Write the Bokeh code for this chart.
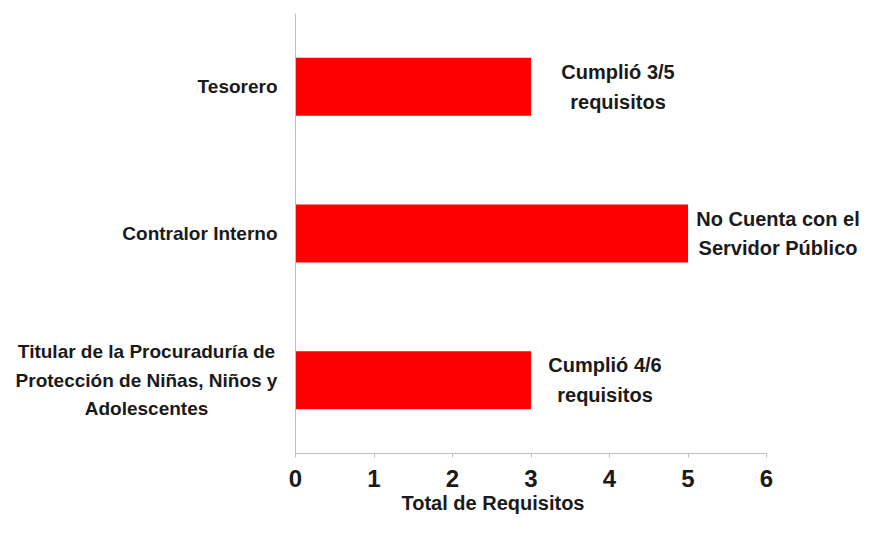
from bokeh.plotting import figure
from bokeh.models import Range1d, FactorRange, ColumnDataSource, FixedTicker, Span, Title
from bokeh.embed import file_html
from bokeh.resources import INLINE
from bokeh.core.properties import value

# ---- data ----
categories = [
    "Titular de la Procuraduría de\nProtección de Niñas, Niños y\nAdolescentes",
    "Contralor Interno",
    "Tesorero",
]
values = [3, 5, 3]
bar_labels = [
    "Cumplió 4/6\nrequisitos",
    "No Cuenta con el\nServidor Público",
    "Cumplió 3/5\nrequisitos",
]
x_ticks = [0, 1, 2, 3, 4, 5, 6]
x_title = "Total de Requisitos"

# ---- style ----
FONT = "Liberation Sans"
TXT = "#1a1a1a"
AX = "#bfbfbf"
label_offsets = [74, 90, 87]          # px right of bar end (label centre)
cat_offsets = [-149, -18, -18]        # px left of the value axis
cat_align = ["center", "right", "right"]

src = ColumnDataSource(dict(cat=categories, val=values, lab=bar_labels,
                            off=label_offsets, zero=[0] * len(values),
                            coff=cat_offsets, calign=cat_align))

p = figure(
    width=860, height=517,
    y_range=FactorRange(*categories),
    x_range=Range1d(-3.758, 7.197),
    y_axis_location=None,
    output_backend="svg", toolbar_location=None,
    min_border_left=0, min_border_right=0,
    min_border_top=13, min_border_bottom=64,
)
p.outline_line_color = None
p.grid.visible = False

p.hbar(y="cat", right="val", left=0, height=0.395, source=src,
       fill_color="#ff0000", line_color=None)

# value-axis line (y axis at x = 0)
p.add_layout(Span(location=0, dimension="height", line_color=AX, line_width=1))

# category labels
p.text(x="zero", y="cat", text="cat", x_offset="coff", text_align="calign",
       source=src, text_baseline="middle",
       text_font=value(FONT), text_font_style="bold",
       text_font_size="19px", text_color=TXT, text_line_height=1.37)

# bar annotations
p.text(x="val", y="cat", text="lab", x_offset="off", source=src,
       text_align="center", text_baseline="middle",
       text_font=value(FONT), text_font_style="bold",
       text_font_size="20px", text_color=TXT, text_line_height=1.35)

xa = p.xaxis[0]
xa.bounds = (0, 6)
xa.ticker = FixedTicker(ticks=x_ticks)
xa.axis_line_color = AX
xa.major_tick_line_color = AX
xa.major_tick_in = 0
xa.major_tick_out = 4
xa.minor_tick_line_color = None
xa.major_label_text_font = FONT
xa.major_label_text_font_style = "bold"
xa.major_label_text_font_size = "24px"
xa.major_label_text_color = TXT
xa.major_label_standoff = 12

p.add_layout(Title(text=x_title, align="left", offset=401, standoff=0,
                   text_font=FONT, text_font_style="bold",
                   text_font_size="20px", text_color=TXT), "below")

open("out.html", "w").write(file_html(p, INLINE))
